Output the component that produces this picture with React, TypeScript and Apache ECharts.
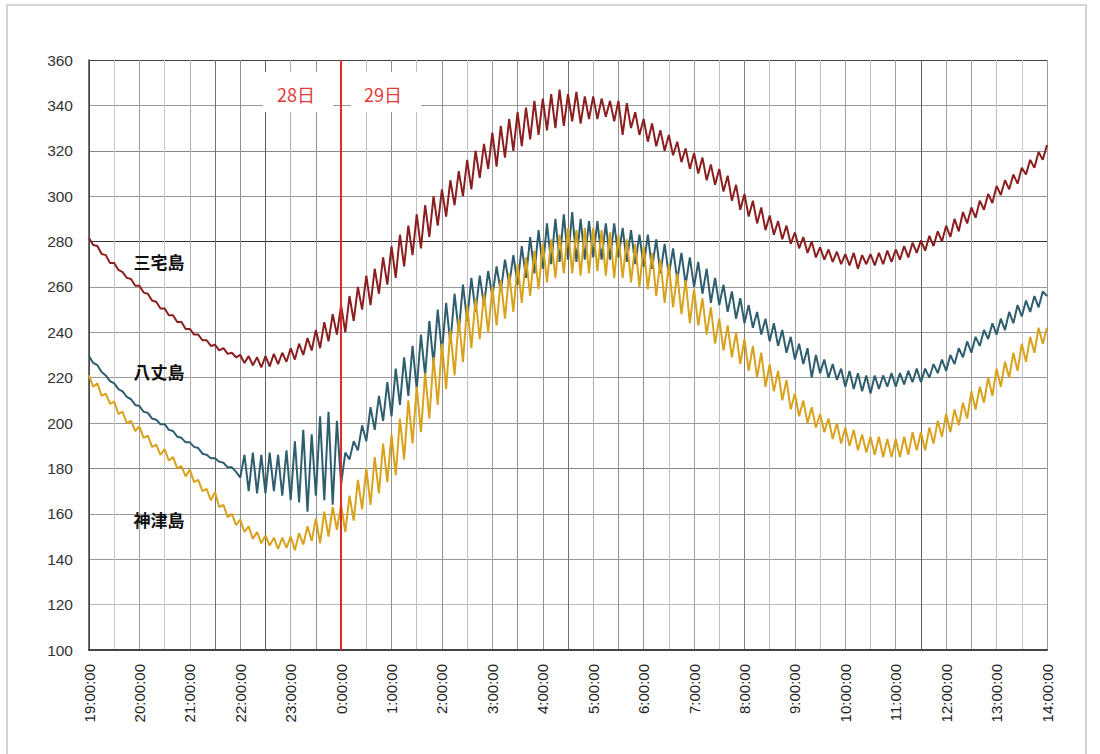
import React, { useEffect, useRef } from 'react';
import * as echarts from 'echarts';

// Time axis: minutes from 19:00 on the 28th, one sample every 5 minutes
const STEP_MINUTES = 5;

const tickLabels = [
  '19:00:00', '20:00:00', '21:00:00', '22:00:00', '23:00:00',
  '0:00:00', '1:00:00', '2:00:00', '3:00:00', '4:00:00', '5:00:00',
  '6:00:00', '7:00:00', '8:00:00', '9:00:00', '10:00:00', '11:00:00',
  '12:00:00', '13:00:00', '14:00:00',
];

const stationNames = ['三宅島', '八丈島', '神津島'];
const dayLabels = ['28日', '29日'];

const miyakejima = [
  281.5, 278.5, 278, 274.5, 274, 270.5, 270.5, 267.5, 266.5, 264, 263.5, 260.5,
  260.5, 257.5, 257, 254, 253.5, 250.5, 250.5, 247.5, 247.5, 244.5, 244.5, 241.5,
  241.5, 239, 239, 236.5, 236.5, 234, 234.5, 232, 233, 230.5, 231, 229,
  230, 226.5, 229.5, 225.5, 229, 224.5, 229.5, 225, 230.5, 226, 231, 227,
  233, 228, 235, 230, 237.5, 232, 241, 233, 244.5, 236, 248, 239,
  252, 240, 256, 245, 260, 250, 265, 252, 268, 257, 273, 261,
  278, 264, 283, 269, 287, 274, 292, 277, 296, 282, 300, 287,
  303, 291, 307, 296, 311, 300, 316, 303, 320, 308, 323, 312,
  328, 313, 331, 317, 334, 320, 337, 322, 339, 325, 342, 327,
  343, 329, 345, 330, 347, 331, 345, 333, 346, 332, 344, 334,
  344, 334, 343, 335, 342, 333, 342, 327, 341, 330, 337, 327,
  334, 324, 332, 322, 329, 320, 327, 318, 324, 315, 321, 312,
  319, 310, 317, 307, 314, 305, 312, 302, 309, 298, 305, 294,
  301, 291, 298, 288, 295, 285, 291.5, 283, 289, 281, 287, 279,
  284, 277, 282, 275, 280, 273, 277.5, 272, 276.5, 271, 275.5, 270,
  274.5, 269.5, 275, 268, 274, 270, 274.5, 269.5, 275, 270, 276, 271,
  276.5, 272, 278, 273, 279.5, 275, 280.5, 276, 282.5, 278, 284.5, 280,
  287, 282, 290, 284.5, 293, 288, 295, 290.5, 298, 294, 301, 297,
  304.5, 300.5, 307, 303, 309.5, 305.5, 312.5, 309.5, 316, 312.5, 319.5, 316,
  322.5,
];

const hachijojima = [
  229.5, 226.5, 225.5, 222.5, 221, 218.5, 217.5, 215, 214, 211.5, 210.5, 208,
  207.5, 205, 204.5, 202, 201.5, 199.5, 199.5, 197, 196.5, 194, 193.5, 191.5,
  191.5, 189.5, 189, 186.5, 186, 184.5, 184.5, 183, 182.5, 180.5, 180.5, 178.5,
  176, 186, 170, 187, 169, 186, 169, 187, 170, 186, 168, 188,
  166, 192, 165, 197, 161, 195, 168, 203, 166, 205, 164, 201,
  173, 187, 184, 192, 188, 199, 192, 207, 197, 212, 201, 218,
  203, 224, 208, 229, 212, 234, 215, 239, 221, 245, 226, 250,
  231, 253, 235, 257, 240, 261, 245, 264, 249, 265, 252, 267,
  256, 269, 258, 272, 261, 274, 261, 278, 264, 282, 266, 285,
  268, 288, 270, 290, 271, 292, 272, 293, 271, 290, 272, 289,
  273, 289, 272, 288, 272, 288, 273, 286, 271, 285, 270, 283,
  269, 283, 268, 281, 266, 279, 265, 277, 263, 275, 261, 273,
  260, 271, 257, 268, 253, 264, 252, 261, 249, 258, 246, 255,
  244, 252, 242, 249, 239, 246, 236, 244, 234, 241, 231, 238,
  228, 235, 226, 233, 220, 230, 222, 228, 220, 226, 219, 224,
  216, 223, 215, 222, 214, 221, 213, 221, 215, 221, 216, 222,
  216, 222, 217, 223, 218, 224, 218, 224, 220, 226, 222, 228,
  223, 230, 226, 233, 229, 236, 231, 238, 234, 241, 237, 244,
  239, 246, 241, 249, 244, 252, 247, 254, 249, 256, 251, 258,
  256,
];

const kozushima = [
  221, 216, 217.5, 212, 213, 208.5, 209.5, 204, 205, 200, 201, 196.5,
  198.5, 193.5, 194.5, 189.5, 190.5, 186, 188.5, 183.5, 185, 180, 181, 176.5,
  179.5, 174, 175, 170, 171, 166, 169.5, 163, 164, 158.5, 160, 155,
  157.5, 152, 154.5, 149, 152, 147, 150.5, 146, 149.5, 144.5, 149.5, 145,
  150, 144, 151.5, 146.5, 154.5, 148, 158, 147, 161, 150, 163, 153,
  164, 152, 168, 157, 175, 162, 180, 164, 185, 169, 191, 174,
  195, 177, 202, 184, 210, 191, 216, 196, 222, 202, 229, 208,
  235, 215, 241, 221, 246, 227, 252, 233, 255, 237, 257, 240,
  260, 243, 263, 246, 266, 249, 270, 253, 273, 256, 276, 259,
  279, 262, 281, 264, 283, 266, 286, 266, 285, 265, 286, 266,
  286, 267, 285, 265, 284, 264, 283, 264, 281, 262, 279, 260,
  278, 259, 275, 256, 272, 253, 270, 251, 266, 248, 263, 244,
  259, 243, 255, 239, 251, 235, 246, 232, 243, 229, 240, 226,
  237, 223, 234, 220, 231, 216, 226, 214, 223, 210, 219, 206,
  213, 203, 210, 200, 207, 198, 204, 196, 202, 193, 200, 191,
  198, 190, 197, 188, 195, 187, 194, 186, 194, 185, 193, 185,
  193, 185, 194, 186, 196, 188, 196, 188, 198, 191, 201, 194,
  204, 196, 206, 199, 209, 202, 214, 206, 216, 209, 220, 212,
  224, 216, 227, 220, 231, 223, 235, 227, 238, 231, 242, 235,
  242,
];

const seriesColors = ['#8b1e1e', '#2e5e6e', '#d9a21b'];

const xSplitColors = [
  '#444', '#c8c8c8', '#a0a0a0', '#c8c8c8', '#b0b0b0', '#707070', '#909090', '#606060',
  '#b0b0b0', '#909090', '#909090', '#c0c0c0', '#909090', '#c0c0c0', '#909090', '#c0c0c0',
  '#a0a0a0', '#909090', '#909090', '#707070', '#b0b0b0', '#909090', '#909090', '#c0c0c0',
  '#a0a0a0', '#c0c0c0', '#808080', '#c0c0c0', '#a0a0a0', '#c0c0c0', '#a0a0a0', '#c0c0c0',
  '#a0a0a0', '#606060', '#a0a0a0', '#a0a0a0', '#c0c0c0', '#c8c8c8', '#999999',
];
const ySplitColors = [
  '#444', '#bbb', '#999', '#999', '#888', '#999', '#999', '#999', '#999', '#333',
  '#999', '#888', '#999', '#444',
];

export default function App() {
  const ref = useRef<HTMLDivElement>(null);

  useEffect(() => {
    document.body.style.margin = '0';
    const chart = echarts.init(ref.current!, null, { renderer: 'svg' });
    const toPairs = (arr: number[]) => arr.map((v, i) => [i * STEP_MINUTES, v]);
    const totalMinutes = (tickLabels.length - 1) * 60;
    const midnight = tickLabels.indexOf('0:00:00') * 60;
    const values = [miyakejima, hachijojima, kozushima];

    const cjk = '"Noto Sans CJK JP", "Noto Sans", sans-serif';
    const latin = '"Liberation Sans", Arial, sans-serif';

    chart.setOption({
      animation: false,
      backgroundColor: '#ffffff',
      grid: { left: 89, right: 53, top: 60, bottom: 104, containLabel: false },
      xAxis: {
        type: 'value',
        min: 0,
        max: totalMinutes,
        interval: 30,
        axisLine: { show: true, onZero: false, lineStyle: { color: '#444', width: 2 } },
        axisTick: { show: false },
        axisLabel: {
          rotate: 90,
          margin: 14,
          fontSize: 15,
          fontFamily: latin,
          color: '#222',
          showMinLabel: true,
          showMaxLabel: true,
          formatter: (v: number) => (v % 60 === 0 ? tickLabels[v / 60] ?? '' : ''),
        },
        splitLine: { show: true, lineStyle: { color: xSplitColors, width: 1 } },
      },
      yAxis: {
        type: 'value',
        min: 100,
        max: 360,
        interval: 20,
        axisLine: { show: true, lineStyle: { color: '#444', width: 1.5 } },
        axisTick: { show: false },
        axisLabel: {
          margin: 16,
          fontSize: 15.5,
          fontFamily: latin,
          color: '#333',
        },
        splitLine: { show: true, lineStyle: { color: ySplitColors, width: 1 } },
      },
      series: values.map((arr, si) => ({
        name: stationNames[si],
        type: 'line',
        data: toPairs(arr),
        symbol: 'none',
        showSymbol: false,
        lineStyle: { color: seriesColors[si], width: 2 },
        itemStyle: { color: seriesColors[si] },
        emphasis: { disabled: true },
        z: 2 + si,
        ...(si === values.length - 1
          ? {
              markLine: {
                silent: true,
                symbol: ['none', 'none'],
                label: { show: false },
                lineStyle: { color: '#e02a2a', width: 2, type: 'solid' },
                emphasis: { disabled: true },
                data: [{ xAxis: midnight }],
              },
            }
          : {}),
      })),
      graphic: [
        {
          type: 'rect',
          z: 1,
          shape: { x: 7, y: 5, width: 1079, height: 780 },
          style: { fill: 'none', stroke: '#d4d4d4', lineWidth: 2 },
        },
        {
          type: 'rect',
          z: 5,
          shape: { x: 263, y: 72, width: 70, height: 40 },
          style: { fill: '#ffffff' },
        },
        {
          type: 'rect',
          z: 5,
          shape: { x: 351, y: 72, width: 70, height: 40 },
          style: { fill: '#ffffff' },
        },
        {
          type: 'text',
          z: 6,
          x: 296,
          y: 94,
          style: {
            text: dayLabels[0],
            fill: '#e03c3c',
            font: `18px ${cjk}`,
            align: 'center',
            verticalAlign: 'middle',
          },
        },
        {
          type: 'text',
          z: 6,
          x: 383,
          y: 94,
          style: {
            text: dayLabels[1],
            fill: '#e03c3c',
            font: `18px ${cjk}`,
            align: 'center',
            verticalAlign: 'middle',
          },
        },
        ...[261, 371, 519].map((y, i) => ({
          type: 'text',
          z: 6,
          x: 159,
          y,
          style: {
            text: stationNames[i],
            fill: '#111',
            font: `bold 17px ${cjk}`,
            align: 'center',
            verticalAlign: 'middle',
          },
        })),
      ],
    });

    return () => chart.dispose();
  }, []);

  return <div ref={ref} style={{ width: 1100, height: 754, background: '#fff' }} />;
}
